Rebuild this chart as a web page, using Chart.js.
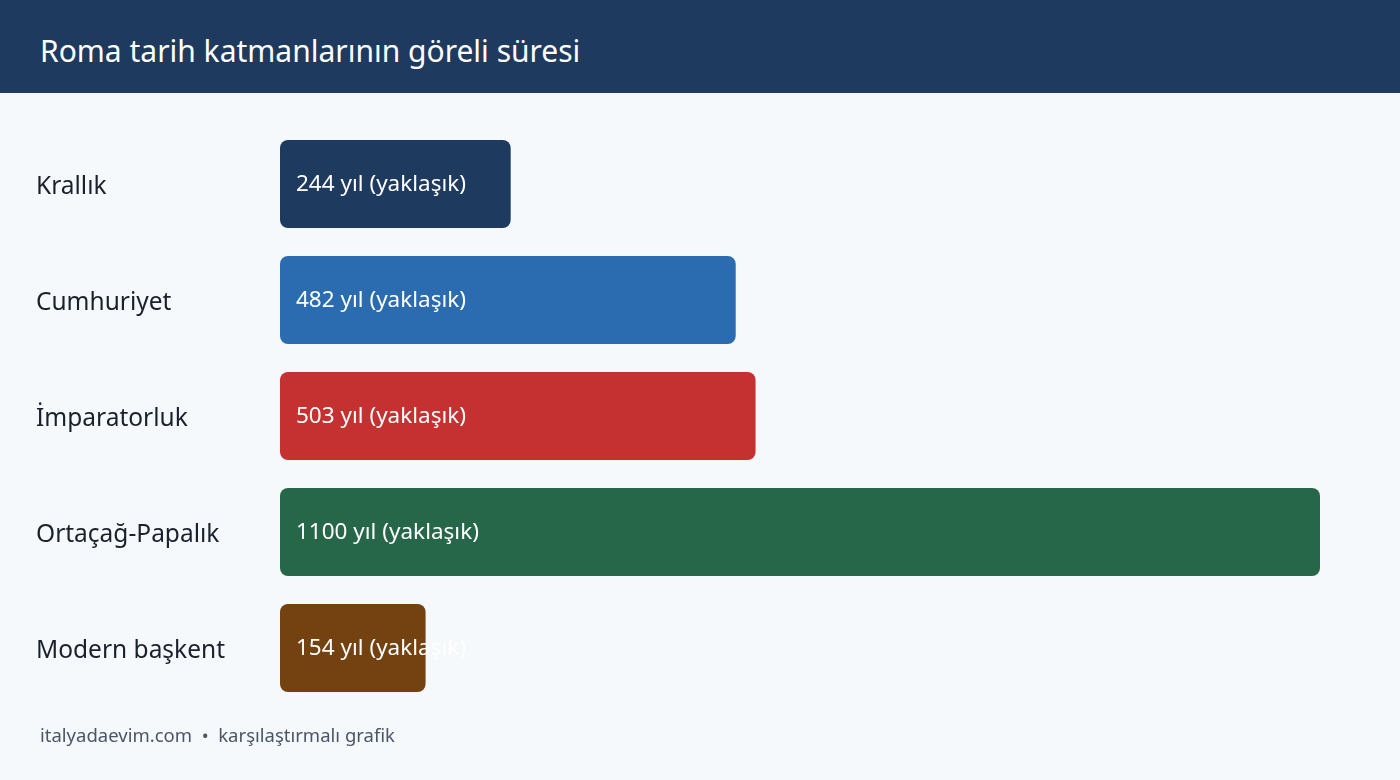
<!DOCTYPE html>
<html>
<head>
<meta charset="utf-8">
<script src="https://cdn.jsdelivr.net/npm/chart.js@4/dist/chart.umd.min.js"></script>
<style>
  html, body { margin: 0; padding: 0; background: #f5f9fc; }
  body { width: 1400px; height: 780px; position: relative; overflow: hidden; font-family: "Noto Sans", sans-serif; }
  #header { position: absolute; left: 0; top: 0; width: 1400px; height: 93px; background: #1f3a5f; }
  #header h1 { margin: 0; position: absolute; left: 40px; top: 36px; font-weight: 400; font-size: 30px; line-height: 1; color: #fff; }
  #footer { position: absolute; left: 40px; top: 726px; font-size: 18.5px; line-height: 1; color: #4a5568; }
  #wrap { position: absolute; left: 0; top: 0; width: 1400px; height: 780px; }
</style>
</head>
<body>
<div id="header"><h1>Roma tarih katmanlarının göreli süresi</h1></div>
<div id="wrap"><canvas id="myChart"></canvas></div>
<div id="footer">italyadaevim.com &nbsp;•&nbsp; karşılaştırmalı grafik</div>
<script>
var categories = ['Krallık', 'Cumhuriyet', 'İmparatorluk', 'Ortaçağ-Papalık', 'Modern başkent'];
var years = [244, 482, 503, 1100, 154];
var valueLabels = ['244 yıl (yaklaşık)', '482 yıl (yaklaşık)', '503 yıl (yaklaşık)', '1100 yıl (yaklaşık)', '154 yıl (yaklaşık)'];
var barColors = ['#1f3a5f', '#2b6cb0', '#c53030', '#276749', '#744210'];

// white text drawn at the start of each bar, even if it runs past the bar
var insideLabels = {
    id: 'insideLabels',
    afterDatasetsDraw: function(chart) {
        var ctx = chart.ctx;
        var meta = chart.getDatasetMeta(0);
        ctx.save();
        ctx.font = '22.5px "Noto Sans", sans-serif';
        ctx.fillStyle = '#ffffff';
        ctx.textBaseline = 'middle';
        ctx.textAlign = 'left';
        meta.data.forEach(function(bar, i) {
            ctx.fillText(valueLabels[i], bar.base + 16, bar.y + 1);
        });
        ctx.restore();
    }
};

var ctx = document.getElementById('myChart').getContext('2d');
var myChart = new Chart(ctx, {
    type: 'bar',
    data: {
        labels: categories,
        datasets: [{
            data: years,
            backgroundColor: barColors,
            borderRadius: 8,
            borderSkipped: false,
            barPercentage: 0.76,
            categoryPercentage: 1.0
        }]
    },
    options: {
        indexAxis: 'y',
        responsive: true,
        maintainAspectRatio: false,
        animation: false,
        layout: { padding: { left: 36, top: 126, right: 80, bottom: 74 } },
        plugins: {
            legend: { display: false },
            tooltip: { enabled: false }
        },
        scales: {
            x: { display: false, min: 0, max: 1100 },
            y: {
                grid: { display: false },
                border: { display: false },
                ticks: {
                    crossAlign: 'far',
                    labelOffset: 3,
                    color: '#1a202c',
                    font: { family: '"Noto Sans", sans-serif', size: 24.5 }
                },
                afterFit: function(scale) { scale.width = 244; }
            }
        }
    },
    plugins: [insideLabels]
});
</script>
</body>
</html>
